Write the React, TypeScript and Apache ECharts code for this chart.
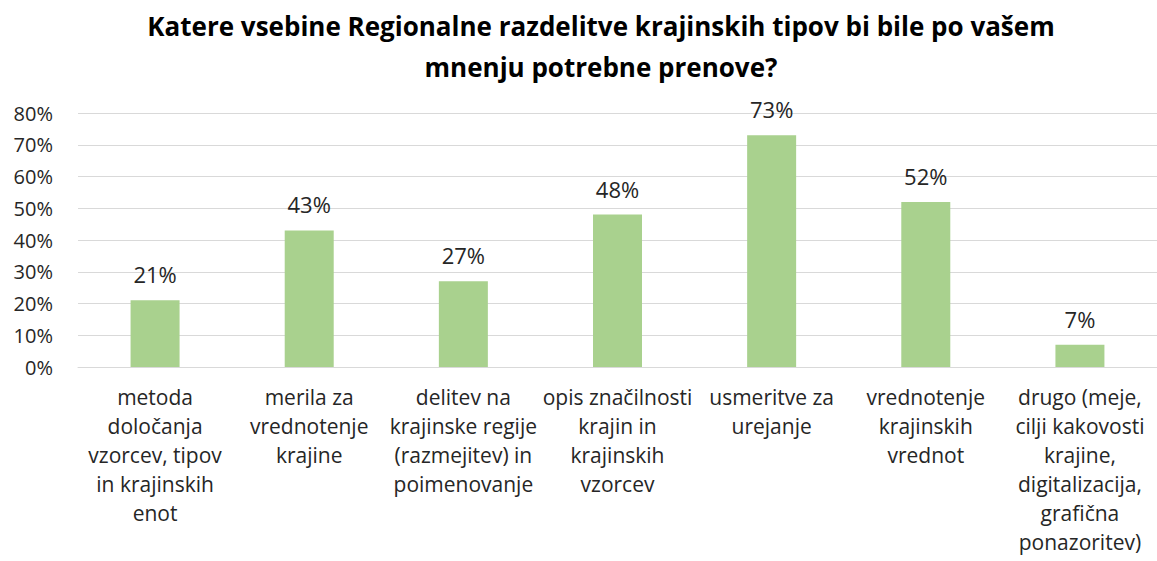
import React, { useEffect, useRef } from "react";
import * as echarts from "echarts";

const titleLines = [
  "Katere vsebine Regionalne razdelitve krajinskih tipov bi bile po vašem",
  "mnenju potrebne prenove?",
];
const categories = [
  "metoda\ndoločanja\nvzorcev, tipov\nin krajinskih\nenot",
  "merila za\nvrednotenje\nkrajine",
  "delitev na\nkrajinske regije\n(razmejitev) in\npoimenovanje",
  "opis značilnosti\nkrajin in\nkrajinskih\nvzorcev",
  "usmeritve za\nurejanje",
  "vrednotenje\nkrajinskih\nvrednot",
  "drugo (meje,\ncilji kakovosti\nkrajine,\ndigitalizacija,\ngrafična\nponazoritev)",
];
const values = [21, 43, 27, 48, 73, 52, 7];
const yMin = 0;
const yMax = 80;
const yStep = 10;

const FONT = "'Open Sans', sans-serif";

export default function App() {
  const ref = useRef<HTMLDivElement>(null);
  useEffect(() => {
    if (!ref.current) return;
    const chart = echarts.init(ref.current, undefined, { renderer: "svg" });
    chart.setOption({
      animation: false,
      backgroundColor: "#ffffff",
      title: {
        text: titleLines.join("\n"),
        left: 596,
        top: 0,
        textAlign: "center",
        textStyle: {
          fontFamily: FONT,
          fontSize: 26,
          fontWeight: "bold",
          color: "#000000",
          lineHeight: 41,
        },
      },
      grid: { left: 78, right: -9, top: 113, bottom: 561 - 367 },
      xAxis: {
        type: "category",
        data: categories,
        axisLine: { show: true, lineStyle: { color: "#d9d9d9", width: 1 } },
        axisTick: { show: false },
        axisLabel: {
          interval: 0,
          margin: 15,
          fontFamily: FONT,
          fontSize: 21,
          lineHeight: 29,
          color: "#262626",
        },
      },
      yAxis: {
        type: "value",
        min: yMin,
        max: yMax,
        interval: yStep,
        axisLine: { show: false },
        axisTick: { show: false },
        splitLine: { lineStyle: { color: "#d9d9d9", width: 1 } },
        axisLabel: {
          margin: 25,
          fontFamily: FONT,
          fontSize: 20,
          color: "#262626",
          formatter: (v: number) => `${v}%`,
        },
      },
      series: [
        {
          type: "bar",
          data: values,
          barWidth: 49,
          itemStyle: { color: "#a9d18e" },
          label: {
            show: true,
            position: "top",
            distance: 15,
            fontFamily: FONT,
            fontSize: 22,
            color: "#262626",
            formatter: (p: any) => `${p.value}%`,
          },
        },
      ],
    });
    return () => chart.dispose();
  }, []);
  return <div ref={ref} style={{ width: 1157, height: 561, position: "absolute", left: 0, top: 0 }} />;
}
